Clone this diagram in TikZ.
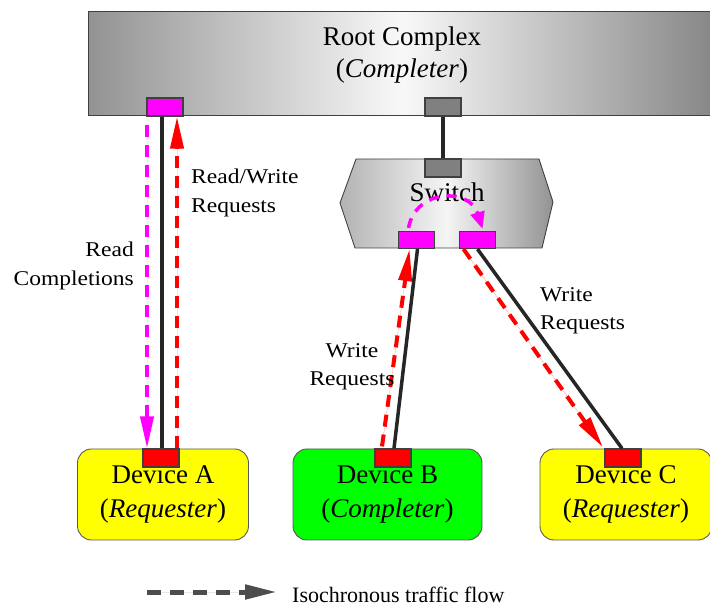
\documentclass[tikz,border=0pt]{standalone}
\usepackage{fontspec}
\setmainfont{Liberation Serif}
\newfontfamily\labfont[FakeStretch=1.12]{Liberation Serif}
\usetikzlibrary{arrows.meta}
\definecolor{mag}{RGB}{255,0,255}
\definecolor{rd}{RGB}{255,0,0}
\definecolor{yel}{RGB}{255,255,0}
\definecolor{grn}{RGB}{0,255,0}
\definecolor{legc}{RGB}{77,77,77}
\begin{document}
\begin{tikzpicture}[x=1pt,y=-1pt,
  port/.style={draw=black!75, line width=1.2pt, minimum width=36pt, minimum height=18pt, inner sep=0pt},
  mport/.style={port, fill=mag},
  gport/.style={port, fill=gray},
  rport/.style={port, fill=rd},
  devbox/.style={draw=black!65, line width=0.9pt, rounded corners=14pt, minimum height=91pt, inner sep=0pt, align=center, font=\fontsize{27}{34}\selectfont},
  link/.style={line width=3.5pt, draw=black!85},
  flow/.style={line width=4pt, dash pattern=on 12pt off 8pt, -{Triangle[length=32pt,width=13pt]}},
  lab/.style={inner sep=0pt, font=\labfont\fontsize{21}{28.5}\selectfont}
]
\useasboundingbox (0,0) rectangle (710,609);

% Root complex
\node[draw=black!75, line width=1pt, minimum width=628pt, minimum height=104pt, inner sep=0pt,
      left color=gray!85, right color=gray!95, middle color=gray!5] (root) at (402,64) {};
\node[align=center, inner sep=0pt, font=\fontsize{27}{32}\selectfont] (rootlbl) at (402,55) {Root Complex\\(\textit{Completer})};
\node[mport] (rpA) at (165,107) {};
\node[gport] (rpG) at (443,107) {};

% Switch
\path[draw=black!75, line width=0.9pt, left color=gray!60, right color=gray!85, middle color=gray!8]
  (340,203) -- (356,159) -- (539,159) -- (553,202) -- (542,248) -- (355,248) -- cycle;
\node[inner sep=0pt, font=\fontsize{27}{32}\selectfont] (sw) at (447,192) {Switch};
\node[gport] (spG) at (443,168) {};
\node[mport, minimum height=17pt] (smL) at (416.5,240) {};
\node[mport, minimum height=17pt] (smR) at (477.5,240) {};

% Devices
\node[devbox, fill=yel, minimum width=171pt] (devA) at (163,494.5) {Device A\\(\textit{Requester})};
\node[devbox, fill=grn, minimum width=189pt] (devB) at (387.5,494.5) {Device B\\(\textit{Completer})};
\node[devbox, fill=yel, minimum width=172pt] (devC) at (626,494.5) {Device C\\(\textit{Requester})};
\node[rport] (dpA) at (161,458) {};
\node[rport] (dpB) at (393,458) {};
\node[rport] (dpC) at (623,458) {};

% Links
\draw[link] ([xshift=-3pt]rpA.south) -- ([xshift=1pt]dpA.north);
\draw[link] (rpG.south) -- (spG.north);
\draw[link] ([xshift=1pt]smL.south) -- ([xshift=1pt]dpB.north);
\draw[link] (smR.south) -- ([xshift=-1pt]dpC.north);

% Flows
\draw[flow, draw=mag, fill=mag] ([xshift=-18pt,yshift=-8pt]rpA.south) -- ([xshift=-14pt]dpA.north);
\draw[flow, draw=rd, fill=rd] ([xshift=16pt]dpA.north) -- ([xshift=12pt]rpA.south);
\draw[flow, draw=rd, fill=rd] ([xshift=-11pt,yshift=2pt]dpB.north) -- ([xshift=-7pt]smL.south);
\draw[flow, draw=rd, fill=rd] ([xshift=-14pt]smR.south) -- ([xshift=-20pt,yshift=1pt]dpC.north);
\draw[line width=3.5pt, dash pattern=on 10pt off 8pt, draw=mag, -{Triangle[length=17pt,width=14pt]}]
  ([xshift=-8pt,yshift=3pt]smL.north) .. controls (416,188) and (470,188) .. ([xshift=5pt,yshift=2pt]smR.north);

% Labels
\node[lab, align=left, anchor=west] (lrw) at (191,193) {Read/Write\\Requests};
\node[lab, align=right, anchor=east] (lrc) at (134,266) {Read\\Completions};
\node[lab, align=center] (lwb) at (352,367) {Write\\Requests};
\node[lab, align=left, anchor=west] (lwc) at (540,311) {Write\\Requests};

% Legend
\coordinate (l1) at (147,592);
\coordinate (l2) at (277,592);
\draw[line width=5pt, draw=legc, fill=legc, dash pattern=on 14pt off 9pt, -{Triangle[length=32pt,width=14pt]}] (l1) -- (l2);
\node[inner sep=0pt, anchor=base west, font=\fontsize{22}{28}\selectfont] (legtxt) at (292,602) {Isochronous traffic flow};
\end{tikzpicture}
\end{document}
